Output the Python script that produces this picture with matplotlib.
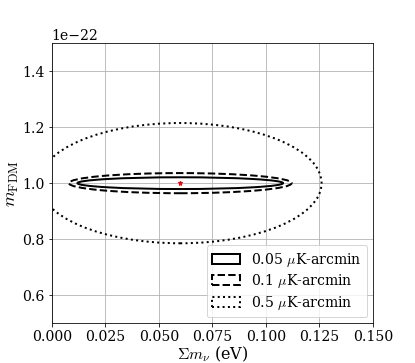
import matplotlib
matplotlib.use("Agg")
import matplotlib.pyplot as plt
from matplotlib.patches import Ellipse

plt.rcParams["font.family"] = "DejaVu Serif"
plt.rcParams["mathtext.fontset"] = "cm"
plt.rcParams["font.size"] = 14

# fiducial point
mnu_fid = 0.06
mfdm_fid = 1.0e-22

# forecast ellipses (full widths / heights)
noise_labels = [r"0.05 $\mu$K-arcmin", r"0.1 $\mu$K-arcmin", r"0.5 $\mu$K-arcmin"]
widths = [0.096, 0.104, 0.132]
heights = [0.042e-22, 0.072e-22, 0.43e-22]
styles = ["-", "--", ":"]

DPI = 72
fig = plt.figure(figsize=(415 / DPI, 363 / DPI), dpi=DPI)
ax = fig.add_axes([0.1246, 0.1102, 0.7742, 0.7705])

for w, h, ls, lab in zip(widths, heights, styles, noise_labels):
    e = Ellipse((mnu_fid, mfdm_fid), w, h, fill=False, edgecolor="black",
                linestyle=ls, linewidth=2, label=lab)
    ax.add_patch(e)

ax.plot(mnu_fid, mfdm_fid, marker="*", color="red", markersize=5, linestyle="none")

ax.set_xlim(0, 0.15)
ax.set_ylim(0.5e-22, 1.5e-22)
ax.set_xticks([0.0, 0.025, 0.05, 0.075, 0.1, 0.125, 0.15])
ax.set_yticks([0.6e-22, 0.8e-22, 1.0e-22, 1.2e-22, 1.4e-22])
ax.grid(True, color="#b0b0b0", linewidth=0.8)
ax.set_axisbelow(True)
ax.set_xlabel(r"$\Sigma m_\nu$ (eV)", fontsize=16, labelpad=1)
ax.set_ylabel(r"$m_{\rm FDM}$", fontsize=18, labelpad=1)
ax.legend(loc="lower right", handlelength=2.0, labelspacing=0.25,
          borderaxespad=0.4)

fig.savefig("out.png", dpi=DPI)
